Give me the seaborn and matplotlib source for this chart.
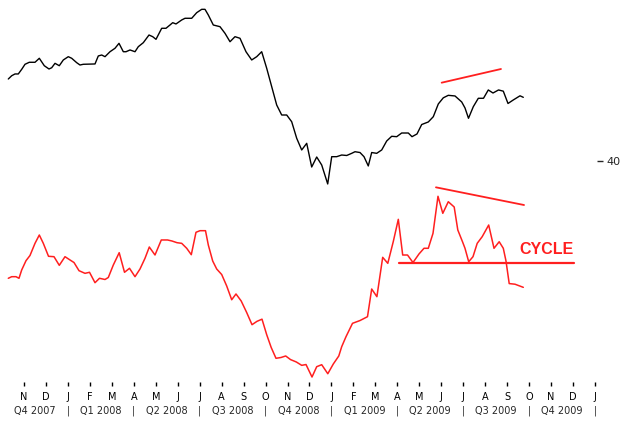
import numpy as np
import pandas as pd
import matplotlib
matplotlib.use('Agg')
import matplotlib.pyplot as plt
import matplotlib.transforms as mtransforms
import seaborn as sns

# x values are months since 1 Nov 2007
price_x = [-0.715, -0.560, -0.410, -0.260, -0.105, 0.046, 0.241, 0.501, 0.697, 0.924,
           1.138, 1.261, 1.412, 1.607, 1.790, 2.017, 2.172, 2.400, 2.550, 2.700,
           3.233, 3.383, 3.538, 3.689, 3.916, 4.144, 4.326, 4.522, 4.645, 4.827,
           5.055, 5.205, 5.433, 5.692, 5.861, 6.011, 6.270, 6.466, 6.648, 6.771,
           6.922, 7.181, 7.332, 7.637, 7.864, 8.092, 8.242, 8.393, 8.620, 8.925,
           9.153, 9.381, 9.608, 9.836, 10.109, 10.369, 10.597, 10.824, 11.052, 11.280,
           11.507, 11.735, 11.963, 12.190, 12.418, 12.646, 12.874, 13.101, 13.329, 13.557,
           13.830, 14.012, 14.239, 14.467, 14.695, 14.923, 15.073, 15.301, 15.483, 15.678,
           15.833, 16.061, 16.289, 16.516, 16.744, 16.972, 17.199, 17.500, 17.668, 17.896,
           18.110, 18.411, 18.639, 18.866, 19.094, 19.321, 19.627, 19.932, 20.082, 20.241,
           20.460, 20.688, 20.924, 21.143, 21.357, 21.608, 21.826, 22.040, 22.281, 22.587,
           22.737]
price_y = [50.25, 50.66, 50.88, 50.88, 51.46, 52.09, 52.34, 52.34, 52.84, 51.91,
           51.50, 51.66, 52.21, 51.91, 52.63, 53.04, 52.84, 52.29, 52.00, 52.09,
           52.13, 53.13, 53.25, 53.04, 53.66, 54.09, 54.71, 53.66, 53.66, 53.88,
           53.66, 54.29, 54.79, 55.75, 55.54, 55.21, 56.59, 56.59, 57.00, 57.29,
           57.13, 57.63, 57.84, 57.84, 58.54, 58.96, 58.96, 58.25, 57.00, 56.79,
           55.96, 54.91, 55.54, 55.34, 53.66, 52.63, 53.04, 53.66, 51.59, 49.29,
           47.00, 45.75, 45.75, 44.91, 42.84, 41.38, 42.21, 39.25, 40.50, 39.50,
           37.13, 40.54, 40.54, 40.75, 40.69, 40.96, 41.16, 41.06, 40.54, 39.38,
           41.06, 40.96, 41.38, 42.50, 43.09, 43.04, 43.50, 43.50, 43.04, 43.38,
           44.56, 44.88, 45.54, 47.13, 47.90, 48.21, 48.13, 47.38, 46.63, 45.34,
           46.79, 47.84, 47.84, 48.88, 48.50, 48.88, 48.73, 47.19, 47.63, 48.15,
           47.96]

cycle_x = [-0.715, -0.560, -0.364, -0.228, -0.105, 0.091, 0.273, 0.501, 0.697, 0.879,
           1.116, 1.366, 1.607, 1.867, 2.095, 2.277, 2.505, 2.778, 2.983, 3.233,
           3.438, 3.689, 3.839, 4.067, 4.335, 4.577, 4.804, 5.055, 5.282, 5.510,
           5.706, 5.965, 6.252, 6.535, 6.740, 6.967, 7.181, 7.409, 7.618, 7.832,
           8.015, 8.265, 8.393, 8.593, 8.775, 9.003, 9.230, 9.458, 9.654, 9.891,
           10.141, 10.383, 10.610, 10.838, 11.052, 11.257, 11.475, 11.703, 11.917, 12.136,
           12.400, 12.646, 12.842, 13.115, 13.329, 13.557, 13.834, 14.085, 14.335, 14.467,
           14.663, 14.959, 15.301, 15.642, 15.833, 16.070, 16.334, 16.566, 16.817, 17.045,
           17.245, 17.464, 17.714, 17.987, 18.215, 18.411, 18.625, 18.852, 19.071, 19.321,
           19.590, 19.754, 19.968, 20.082, 20.251, 20.446, 20.638, 20.865, 21.161, 21.403,
           21.639, 21.826, 21.949, 22.095, 22.359, 22.737]
cycle_y = [25.34, 25.54, 25.54, 25.34, 26.38, 27.54, 28.19, 29.71, 30.75, 29.71,
           28.09, 28.04, 26.96, 28.04, 27.63, 27.31, 26.29, 25.96, 26.09, 24.79,
           25.34, 25.19, 25.44, 27.00, 28.54, 26.09, 26.59, 25.54, 26.50, 27.84,
           29.25, 28.25, 30.13, 30.13, 30.00, 29.79, 29.71, 29.09, 28.29, 31.09,
           31.29, 31.29, 29.50, 27.50, 26.50, 25.81, 24.38, 22.66, 23.38, 22.50,
           21.06, 19.54, 19.96, 20.23, 18.29, 16.69, 15.34, 15.44, 15.63, 15.18,
           14.88, 14.46, 14.56, 13.00, 14.29, 14.54, 13.41, 14.63, 15.63, 16.79,
           18.04, 19.71, 20.06, 20.54, 24.00, 23.04, 27.96, 27.21, 29.94, 32.71,
           28.25, 28.25, 27.31, 28.38, 29.09, 29.09, 30.96, 35.59, 33.46, 34.91,
           34.25, 31.38, 29.91, 29.09, 27.41, 28.04, 29.71, 30.54, 32.00, 29.09,
           29.91, 29.09, 27.50, 24.68, 24.60, 24.21]

# hand drawn trend lines (start, end)
price_trend_x = [19.02, 21.72]
price_trend_y = [49.79, 51.50]
cycle_trend_x = [18.76, 22.77]
cycle_trend_y = [36.71, 34.50]
cycle_level_x = [17.09, 25.06]
cycle_level_y = [27.29, 27.29]

month_letters = ['N', 'D', 'J', 'F', 'M', 'A', 'M', 'J', 'J', 'A', 'S', 'O', 'N', 'D',
                 'J', 'F', 'M', 'A', 'M', 'J', 'J', 'A', 'S', 'O', 'N', 'D', 'J']
quarter_labels = ['Q4 2007', 'Q1 2008', 'Q2 2008', 'Q3 2008', 'Q4 2008',
                  'Q1 2009', 'Q2 2009', 'Q3 2009', 'Q4 2009']
quarter_bounds = [2, 5, 8, 11, 14, 17, 20, 23, 26]

sns.set_style('white')
plt.rcParams['font.family'] = ['DejaVu Sans']

red = '#ff1f1f'
fig = plt.figure(figsize=(6.2, 4.21), dpi=100)
ax = fig.add_axes([0.0, 0.0926, 0.9629, 0.9074])

price_df = pd.DataFrame({'month': price_x, 'value': price_y})
cycle_df = pd.DataFrame({'month': cycle_x, 'value': cycle_y})
sns.lineplot(data=price_df, x='month', y='value', color='black', linewidth=1.0,
             estimator=None, ax=ax)
sns.lineplot(data=cycle_df, x='month', y='value', color=red, linewidth=1.1,
             estimator=None, ax=ax)

ax.plot(price_trend_x, price_trend_y, color=red, linewidth=1.3)
ax.plot(cycle_trend_x, cycle_trend_y, color=red, linewidth=1.3)
ax.plot(cycle_level_x, cycle_level_y, color=red, linewidth=1.6)
ax.text(22.54, 28.9, 'CYCLE', color=red, fontsize=11.5, fontweight='bold',
        family='Liberation Sans', ha='left', va='center')

ax.set_xlim(-1.093, 26.093)
ax.set_ylim(12.375, 60.125)
for s in ax.spines.values():
    s.set_visible(False)

ax.set_xticks(range(len(month_letters)))
ax.set_xticklabels(month_letters, fontsize=7)
ax.tick_params(axis='x', length=3, width=1, pad=4, colors='black', bottom=True)

ax.yaxis.tick_right()
ax.set_yticks([40])
ax.set_yticklabels(['40'], fontsize=8)
ax.tick_params(axis='y', length=4, width=1, pad=3, right=True)
ax.set_xlabel('')
ax.set_ylabel('')

trans = mtransforms.blended_transform_factory(ax.transData, ax.transAxes)
for i, q in enumerate(quarter_labels):
    ax.text(quarter_bounds[i] - 1.5, -0.075, q, transform=trans, fontsize=7,
            ha='center', va='center', clip_on=False)
    ax.text(quarter_bounds[i], -0.075, '|', transform=trans, fontsize=7,
            ha='center', va='center', clip_on=False)

fig.savefig('out.png', dpi=100, facecolor='white')
